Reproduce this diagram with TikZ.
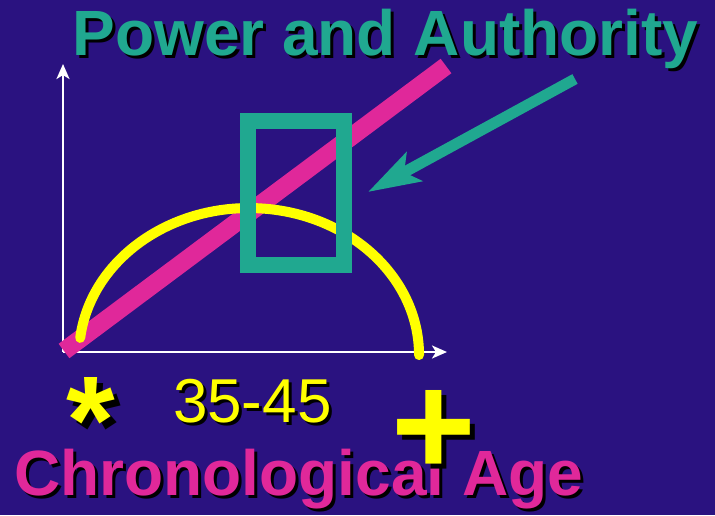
\documentclass[tikz,border=0pt]{standalone}
\usepackage{fontspec}
\setmainfont{Liberation Sans}
\usetikzlibrary{arrows.meta}
\definecolor{ageBg}{HTML}{2A1280}
\definecolor{ageTeal}{HTML}{20A890}
\definecolor{agePink}{HTML}{E0289A}
\definecolor{ageYellow}{HTML}{FFFF00}
\begin{document}
\begin{tikzpicture}[x=1pt,y=-1pt,
  txt/.style={anchor=base west,inner sep=0pt,outer sep=0pt},
  shadow/.style={txt,text=black},
  bigbold/.style={font=\fontsize{64}{64}\selectfont\bfseries},
  axis/.style={white,line width=2.5pt,-{Stealth[length=15pt,width=13pt,inset=4pt]}},
  power/.style={agePink,line width=18pt},
  career/.style={ageYellow,line width=10pt,line cap=round},
  peakbox/.style={draw=ageTeal,line width=16pt,inner sep=0pt,
                  minimum width=96pt,minimum height=144.5pt},
  pointer/.style={ageTeal,line width=11pt,
                  -{Stealth[length=52pt,width=32pt,inset=11pt]}}]

%% Background
\fill[ageBg] (0,0) rectangle (715,515);
\useasboundingbox (0,0) rectangle (715,515);

%% Axes
\coordinate (O)    at (63,352);
\coordinate (ytip) at (63,64);
\coordinate (xtip) at (447,352);
\draw[axis] (O) -- (ytip);
\draw[axis] (O) -- (xtip);

%% Power line and career curve
\coordinate (pwL) at (64,351);
\coordinate (pwR) at (446,66);
\draw[power] (pwL) -- (pwR);

\coordinate (arcL) at (80.2,337.9);
\draw[career] (arcL) arc[start angle=186.7,end angle=360,x radius=170,y radius=147];

%% Peak box and pointer
\node[peakbox] (box) at (296,192.75) {};
\coordinate (ptTail) at (575,79);
\coordinate (ptTip)  at (368,192);
\draw[pointer] (ptTail) -- (ptTip);

%% Title
\node[shadow,bigbold] (titleS) at (75.5,58) {Power and Authority};
\node[txt,bigbold,text=ageTeal] (title) at (72.5,55) {Power and Authority};

%% Age axis labels
\node[shadow,font=\fontsize{62}{62}\selectfont] (rangeS) at (176,425) {35-45};
\node[txt,font=\fontsize{62}{62}\selectfont,text=ageYellow] (range) at (173,422) {35-45};

\node[shadow,bigbold] (xlabS) at (17.3,498) {Chronological Age};
\node[txt,bigbold,text=agePink] (xlab) at (14.3,495) {Chronological Age};

\node[shadow,font=\fontsize{125}{125}\selectfont\bfseries] (starS) at (72,469) {*};
\node[txt,font=\fontsize{125}{125}\selectfont\bfseries,text=ageYellow] (star) at (66,463) {*};

\node[shadow,font=\fontsize{145}{145}\selectfont\bfseries] (plusS) at (396,480) {+};
\node[txt,font=\fontsize{145}{145}\selectfont\bfseries,text=ageYellow] (plus) at (391,475) {+};
\end{tikzpicture}
\end{document}
